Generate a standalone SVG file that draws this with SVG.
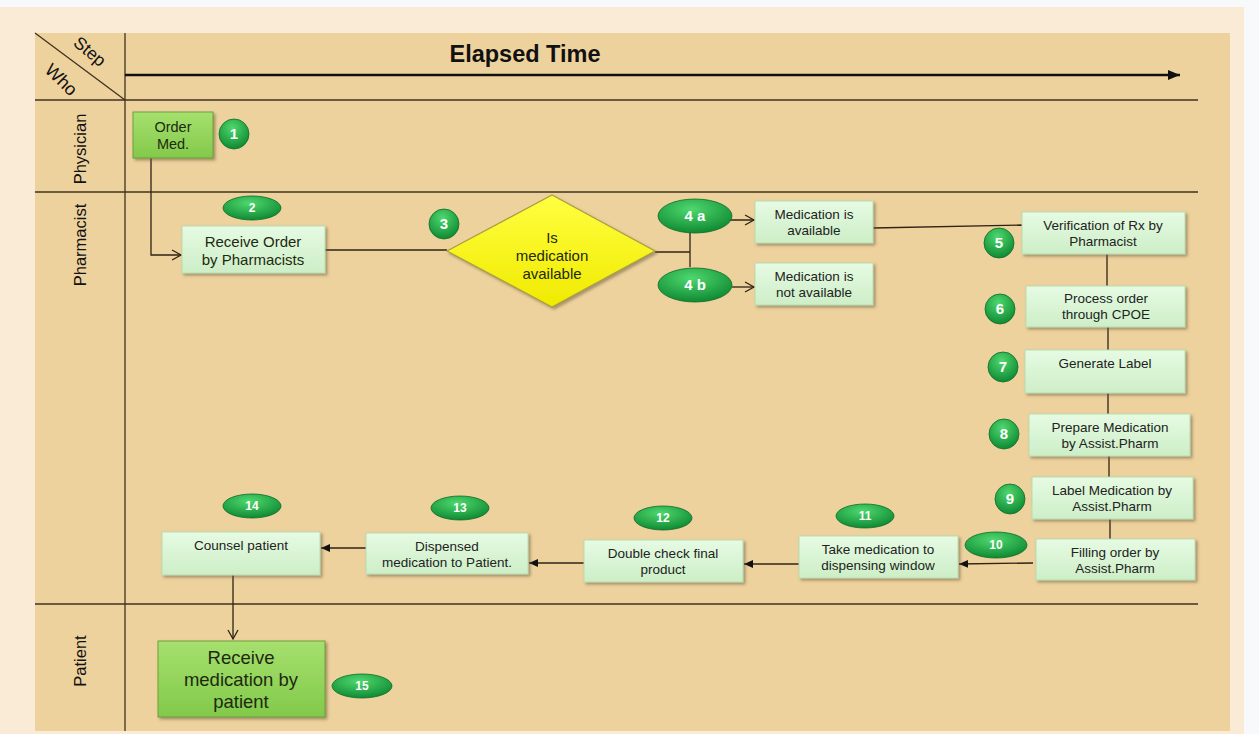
<svg xmlns="http://www.w3.org/2000/svg" width="1259" height="734" viewBox="0 0 1259 734">
<defs>
<style>
.lane{stroke:#3f3220;stroke-width:1.3;fill:none}
.con{stroke:#2e2414;stroke-width:1.3;fill:none}
.box{fill:url(#lg);stroke:#b9dcb0;stroke-width:1;filter:url(#sh)}
.gbox{fill:url(#gg);stroke:#6f9f3a;stroke-width:1;filter:url(#sh)}
.t{font-family:"Liberation Sans",Arial,sans-serif;font-size:13.5px;fill:#222;text-anchor:middle}
.tg{font-family:"Liberation Sans",Arial,sans-serif;font-size:15px;fill:#1d2a10;text-anchor:middle}
.tb{font-family:"Liberation Sans",Arial,sans-serif;font-size:18.5px;fill:#1d2a10;text-anchor:middle}
.lt{font-family:"Liberation Sans",Arial,sans-serif;font-size:16.5px;fill:#111;text-anchor:middle}
.ttl{font-family:"Liberation Sans",Arial,sans-serif;font-size:23.5px;font-weight:bold;fill:#111;text-anchor:middle}
.bn{fill:url(#bg);stroke:#0c6b28;stroke-width:0.8}
.bt{font-family:"Liberation Sans",Arial,sans-serif;font-size:15px;font-weight:bold;fill:#fff;text-anchor:middle}
.bs{font-family:"Liberation Sans",Arial,sans-serif;font-size:12px;font-weight:bold;fill:#fff;text-anchor:middle}
</style>
<linearGradient id="lg" x1="0" y1="0" x2="0" y2="1"><stop offset="0" stop-color="#e6fbe3"/><stop offset="1" stop-color="#cdeec7"/></linearGradient>
<linearGradient id="gg" x1="0" y1="0" x2="0" y2="1"><stop offset="0" stop-color="#a6e06e"/><stop offset="1" stop-color="#82c94a"/></linearGradient>
<linearGradient id="yg" x1="0" y1="0" x2="0" y2="1"><stop offset="0" stop-color="#ffff40"/><stop offset="1" stop-color="#f0ea00"/></linearGradient>
<radialGradient id="bg" cx="0.45" cy="0.3" r="0.7"><stop offset="0" stop-color="#4fd86e"/><stop offset="1" stop-color="#0f8a33"/></radialGradient>
<filter id="sh" x="-10%" y="-10%" width="125%" height="130%"><feDropShadow dx="2" dy="2" stdDeviation="1.5" flood-color="#6a5a40" flood-opacity="0.55"/></filter>
<marker id="oa" markerWidth="12" markerHeight="12" refX="10" refY="6" orient="auto" markerUnits="userSpaceOnUse"><path d="M1,1 L10,6 L1,11" fill="none" stroke="#2e2414" stroke-width="1.3"/></marker>
<marker id="fa" markerWidth="10" markerHeight="10" refX="9" refY="5" orient="auto" markerUnits="userSpaceOnUse"><path d="M0,1 L9,5 L0,9 Z" fill="#111"/></marker>
<marker id="ta" markerWidth="14" markerHeight="14" refX="12" refY="7" orient="auto" markerUnits="userSpaceOnUse"><path d="M0,2 L12,7 L0,12 Z" fill="#111"/></marker>
</defs>

<rect x="0" y="0" width="1259" height="734" fill="#f8f9fb"/>
<rect x="0" y="7" width="1244" height="727" fill="#f9ebd6"/>
<rect x="35" y="33" width="1195" height="698" fill="#eed29d"/>

<g id="lanes">
<line class="lane" x1="125" y1="33" x2="125" y2="731"/>
<line class="lane" x1="35" y1="100" x2="1198" y2="100"/>
<line class="lane" x1="35" y1="192" x2="1198" y2="192"/>
<line class="lane" x1="35" y1="604" x2="1198" y2="604"/>
<line class="lane" x1="35" y1="33" x2="125" y2="100"/>
<line x1="125" y1="75" x2="1180" y2="75" stroke="#111" stroke-width="2.5" marker-end="url(#ta)"/>
<text class="ttl" x="525" y="62">Elapsed Time</text>
<text class="lt" transform="translate(86,56) rotate(40)" style="font-size:17.5px">Step</text>
<text class="lt" transform="translate(57,84) rotate(44)" style="font-size:18px">Who</text>
<text class="lt" transform="translate(86,149) rotate(-90)">Physician</text>
<text class="lt" transform="translate(86,245) rotate(-90)">Pharmacist</text>
<text class="lt" transform="translate(86,661) rotate(-90)">Patient</text>
</g>

<g id="connectors">
<polyline class="con" points="151,158 151,255 181,255" marker-end="url(#oa)"/>
<line class="con" x1="325" y1="250" x2="447" y2="250"/>
<polyline class="con" points="655,252 690,252"/>
<line class="con" x1="690" y1="220" x2="690" y2="267"/>
<line class="con" x1="690" y1="220" x2="754" y2="220" marker-end="url(#oa)"/>
<line class="con" x1="732" y1="287" x2="754" y2="287" marker-end="url(#oa)"/>
<line class="con" x1="873" y1="228" x2="1022" y2="225"/>
<line class="con" x1="1107" y1="254" x2="1107" y2="286"/>
<line class="con" x1="1108" y1="327" x2="1108" y2="350"/>
<line class="con" x1="1108" y1="393" x2="1108" y2="414"/>
<line class="con" x1="1109" y1="456" x2="1109" y2="477"/>
<line class="con" x1="1110" y1="519" x2="1110" y2="539"/>
<line class="con" x1="1033" y1="563" x2="959" y2="564" marker-end="url(#fa)"/>
<line class="con" x1="800" y1="564" x2="744" y2="564" marker-end="url(#fa)"/>
<line class="con" x1="603" y1="563" x2="529" y2="563" marker-end="url(#fa)"/>
<line class="con" x1="390" y1="548" x2="321" y2="548" marker-end="url(#fa)"/>
<line class="con" x1="233" y1="575" x2="233" y2="639" marker-end="url(#oa)"/>
</g>

<g id="n1"><rect class="gbox" x="133" y="112" width="80" height="46"/><text class="tg" x="173" y="132" style="font-size:14.5px">Order</text><text class="tg" x="173" y="149" style="font-size:14.5px">Med.</text>
<circle class="bn" cx="234" cy="134" r="15"/><text class="bt" x="234" y="139">1</text></g>

<g id="n2"><rect class="box" x="182" y="226" width="143" height="47"/><text class="tg" x="253" y="247">Receive Order</text><text class="tg" x="253" y="265">by Pharmacists</text>
<ellipse class="bn" cx="252" cy="208" rx="29" ry="12"/><text class="bs" x="252" y="212">2</text></g>

<g id="n3"><polygon points="552,195 655,251 552,307 447,251" fill="url(#yg)" stroke="#a8a040" stroke-width="1.2" filter="url(#sh)"/>
<text class="tg" x="552" y="243">Is</text><text class="tg" x="552" y="261">medication</text><text class="tg" x="552" y="279">available</text>
<circle class="bn" cx="444" cy="224" r="15"/><text class="bt" x="444" y="229">3</text></g>

<g id="n4a"><rect class="box" x="755" y="201" width="118" height="42"/><text class="t" x="814" y="219">Medication is</text><text class="t" x="814" y="235">available</text>
<ellipse class="bn" cx="695" cy="216" rx="37" ry="17"/><text class="bt" x="695" y="221">4 a</text></g>

<g id="n4b"><rect class="box" x="755" y="263" width="118" height="42"/><text class="t" x="814" y="281">Medication is</text><text class="t" x="814" y="297">not available</text>
<ellipse class="bn" cx="695" cy="285" rx="37" ry="17"/><text class="bt" x="695" y="290">4 b</text></g>

<g id="n5"><rect class="box" x="1022" y="212" width="163" height="42"/><text class="t" x="1103" y="230">Verification of Rx by</text><text class="t" x="1103" y="246">Pharmacist</text>
<circle class="bn" cx="999" cy="243" r="15"/><text class="bt" x="999" y="248">5</text></g>

<g id="n6"><rect class="box" x="1026" y="286" width="159" height="41"/><text class="t" x="1106" y="303">Process order</text><text class="t" x="1106" y="319">through CPOE</text>
<circle class="bn" cx="1000" cy="309" r="15"/><text class="bt" x="1000" y="314">6</text></g>

<g id="n7"><rect class="box" x="1025" y="350" width="160" height="43"/><text class="t" x="1105" y="368">Generate Label</text>
<circle class="bn" cx="1003" cy="367" r="15"/><text class="bt" x="1003" y="372">7</text></g>

<g id="n8"><rect class="box" x="1029" y="414" width="161" height="42"/><text class="t" x="1110" y="432">Prepare Medication</text><text class="t" x="1110" y="448">by Assist.Pharm</text>
<circle class="bn" cx="1004" cy="434" r="15"/><text class="bt" x="1004" y="439">8</text></g>

<g id="n9"><rect class="box" x="1032" y="477" width="161" height="42"/><text class="t" x="1112" y="495">Label Medication by</text><text class="t" x="1112" y="511">Assist.Pharm</text>
<circle class="bn" cx="1010" cy="499" r="15"/><text class="bt" x="1010" y="504">9</text></g>

<g id="n10"><rect class="box" x="1036" y="539" width="159" height="41"/><text class="t" x="1115" y="557">Filling order by</text><text class="t" x="1115" y="573">Assist.Pharm</text>
<ellipse class="bn" cx="996" cy="545" rx="31" ry="13"/><text class="bs" x="996" y="549">10</text></g>

<g id="n11"><rect class="box" x="799" y="536" width="159" height="42"/><text class="t" x="878" y="554">Take medication to</text><text class="t" x="878" y="570">dispensing window</text>
<ellipse class="bn" cx="865" cy="516" rx="29" ry="12"/><text class="bs" x="865" y="520">11</text></g>

<g id="n12"><rect class="box" x="584" y="540" width="159" height="42"/><text class="t" x="663" y="558">Double check final</text><text class="t" x="663" y="574">product</text>
<ellipse class="bn" cx="663" cy="518" rx="29" ry="12"/><text class="bs" x="663" y="522">12</text></g>

<g id="n13"><rect class="box" x="366" y="533" width="162" height="41"/><text class="t" x="447" y="551">Dispensed</text><text class="t" x="447" y="567">medication to Patient.</text>
<ellipse class="bn" cx="460" cy="508" rx="29" ry="12"/><text class="bs" x="460" y="512">13</text></g>

<g id="n14"><rect class="box" x="162" y="532" width="158" height="43"/><text class="t" x="241" y="550">Counsel patient</text>
<ellipse class="bn" cx="252" cy="506" rx="29" ry="12"/><text class="bs" x="252" y="510">14</text></g>

<g id="n15"><rect class="gbox" x="158" y="641" width="167" height="76"/><text class="tb" x="241" y="664">Receive</text><text class="tb" x="241" y="686">medication by</text><text class="tb" x="241" y="708">patient</text>
<ellipse class="bn" cx="362" cy="686" rx="30" ry="12"/><text class="bs" x="362" y="690">15</text></g>
</svg>
